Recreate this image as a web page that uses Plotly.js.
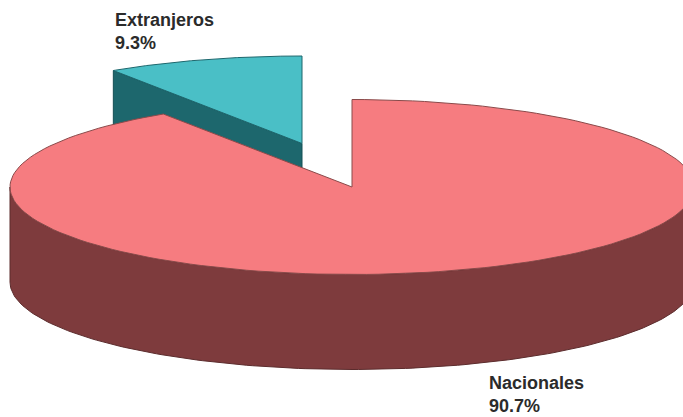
<!DOCTYPE html>
<html>
<head>
<meta charset="utf-8">
<script src="https://cdn.plot.ly/plotly-3.0.1.min.js"></script>
<style>html,body{margin:0;padding:0;background:#fff;overflow:hidden}#chart{width:683px;height:417px}</style>
</head>
<body>
<div id="chart"></div>
<script>
// Data
const categories = ["Extranjeros", "Nacionales"];
const shares = [9.3, 90.7];
const shareLabels = ["9.3%", "90.7%"];
const topColors = ["#4abfc6", "#f67c80"];
const sideColors = ["#1d676d", "#7e3b3d"];
const labelPositions = [[113, 31], [487, 394]];

// Pie projection
const cx = 352, cy = 187, rx = 342, ry = 87.5, depth = 95;
const explodeDx = -50, explodeDy = -43.5;

const pt = (a, c) => [c[0] + rx * Math.sin(a), c[1] - ry * Math.cos(a)];
function arc(a0, a1, c) {
  const n = 160, out = [];
  for (let i = 0; i <= n; i++) out.push(pt(a0 + (a1 - a0) * i / n, c));
  return out;
}
function trace(points, fill, line) {
  return {
    type: "scatter", mode: "lines", fill: "toself", fillcolor: fill,
    x: points.map(p => p[0]), y: points.map(p => p[1]),
    line: {color: line, width: 1}, hoverinfo: "skip", showlegend: false
  };
}
const sweepSmall = shares[0] / (shares[0] + shares[1]) * 2 * Math.PI;
const apexSmall = [cx + explodeDx, cy + explodeDy];
const apexSmallLow = [apexSmall[0], apexSmall[1] + depth];
const smallArc = arc(-sweepSmall, 0, apexSmall);
const smallEdgeOuter = smallArc[0];

// Extranjeros: cut wall, then top face
const smallWall = [apexSmall, smallEdgeOuter,
  [smallEdgeOuter[0], smallEdgeOuter[1] + depth], apexSmallLow, apexSmall];
const smallTop = [apexSmall].concat(smallArc, [apexSmall]);

// Nacionales: rim wall, then top face
const bigCentre = [cx, cy];
const frontArc = arc(Math.PI / 2, 3 * Math.PI / 2, bigCentre);
const bigWall = frontArc.concat(
  frontArc.slice().reverse().map(p => [p[0], p[1] + depth]), [frontArc[0]]);
const bigTop = [bigCentre].concat(arc(0, 2 * Math.PI - sweepSmall, bigCentre), [bigCentre]);

const traces = [
  trace(smallWall, sideColors[0], "#155055"),
  trace(smallTop, topColors[0], "#1d676d"),
  trace(bigWall, sideColors[1], "#5c2c2d"),
  trace(bigTop, topColors[1], "#8a4a4a")
];

const layout = {
  width: 683, height: 417,
  margin: {l: 0, r: 0, t: 0, b: 0},
  paper_bgcolor: "#ffffff", plot_bgcolor: "#ffffff",
  xaxis: {range: [0, 683], visible: false, fixedrange: true},
  yaxis: {range: [417, 0], visible: false, fixedrange: true},
  showlegend: false,
  annotations: categories.map((c, i) => ({
    x: labelPositions[i][0], y: labelPositions[i][1],
    xref: "x", yref: "y", xanchor: "left", yanchor: "middle", align: "left",
    showarrow: false,
    text: "<b>" + c + "<br>" + shareLabels[i] + "</b>",
    font: {family: "Liberation Sans, Arial, sans-serif", size: 18, color: "#2b2b2b"}
  }))
};
Plotly.newPlot("chart", traces, layout, {displayModeBar: false, staticPlot: true});
</script>
</body>
</html>
